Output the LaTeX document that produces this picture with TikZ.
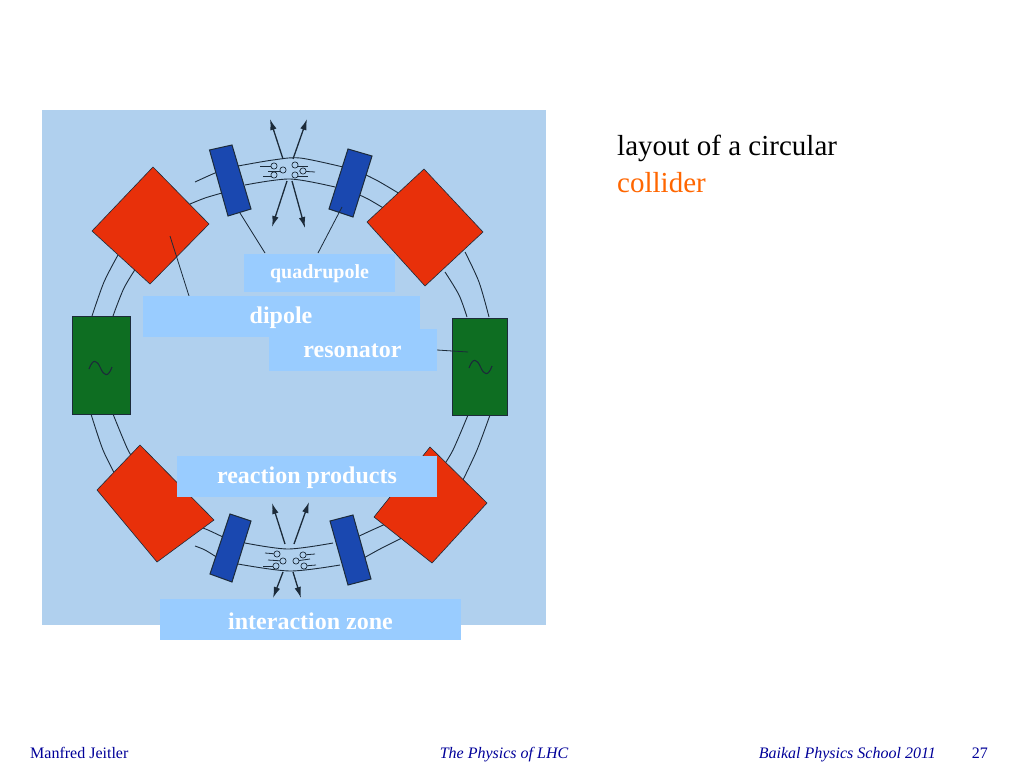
\documentclass[tikz,border=0pt]{standalone}
\usepackage{fontspec}
\setmainfont{Liberation Serif}
\definecolor{panel}{HTML}{B0D0EE}
\definecolor{lab}{HTML}{99CCFF}
\definecolor{ink}{HTML}{1C2B3A}
\definecolor{redm}{HTML}{E8300A}
\definecolor{bluem}{HTML}{1A48B0}
\definecolor{greenm}{HTML}{0E6E22}
\definecolor{foot}{HTML}{000099}
\tikzset{
  ring/.style={draw=ink,line width=0.9pt},
  lead/.style={draw=ink,line width=0.8pt},
  red magnet/.style={fill=redm,draw=ink,line width=0.6pt},
  blue magnet/.style={fill=bluem,draw=ink,line width=1pt},
  green magnet/.style={fill=greenm,draw=ink,line width=1pt},
  spray/.style={draw=ink,line width=1.3pt,-{Latex[length=11pt,width=6.5pt]}},
  stem/.style={draw=ink,line width=0.8pt},
  ball/.style={draw=ink,fill=panel,line width=0.7pt},
  labelbox/.style={fill=lab,draw=none,inner sep=0pt,text=white,font=\bfseries},
}
\usetikzlibrary{arrows.meta}
\begin{document}
\begin{tikzpicture}[x=1pt,y=-1pt]
\useasboundingbox (0,0) rectangle (1024,768);
\fill[white] (0,0) rectangle (1024,768);
\fill[panel] (42,110) rectangle (546,625);
% ring segments
\draw[ring] plot[smooth] coordinates {(238,166) (273,160) (300,158) (343,167)};
\draw[ring] plot[smooth] coordinates {(245,185) (290,179) (335,187)};
\draw[ring] plot[smooth] coordinates {(195,182) (215,173) (225,170)};
\draw[ring] plot[smooth] coordinates {(190,204) (205,198) (222,193)};
\draw[ring] plot[smooth] coordinates {(360,172) (378,181) (400,194)};
\draw[ring] plot[smooth] coordinates {(355,193) (368,199) (385,209)};
\draw[ring] plot[smooth] coordinates {(92,316) (104,282) (118,255)};
\draw[ring] plot[smooth] coordinates {(113,316) (124,288) (138,265)};
\draw[ring] plot[smooth] coordinates {(489,317) (479,282) (465,252)};
\draw[ring] plot[smooth] coordinates {(467,317) (459,295) (445,272)};
\draw[ring] plot[smooth] coordinates {(91,414) (103,450) (118,480)};
\draw[ring] plot[smooth] coordinates {(113,414) (128,450) (138,465)};
\draw[ring] plot[smooth] coordinates {(490,415) (477,450) (462,482)};
\draw[ring] plot[smooth] coordinates {(468,415) (453,450) (442,468)};
\draw[ring] plot[smooth] coordinates {(245,543) (288,549) (333,543)};
\draw[ring] plot[smooth] coordinates {(238,564) (290,571) (340,565)};
\draw[ring] plot[smooth] coordinates {(195,525) (208,530) (225,538)};
\draw[ring] plot[smooth] coordinates {(195,546) (205,550) (218,558)};
\draw[ring] plot[smooth] coordinates {(355,538) (370,531) (390,522)};
\draw[ring] plot[smooth] coordinates {(362,559) (380,549) (402,538)};
% magnets
\fill[red magnet] (153,167) -- (209,224) -- (150,284) -- (92,231) -- cycle;
\fill[red magnet] (424,169) -- (483,232) -- (425,286) -- (367,222) -- cycle;
\fill[red magnet] (140,445) -- (214,520) -- (157,562) -- (97,490) -- cycle;
\fill[red magnet] (430,447) -- (487,503) -- (432,563) -- (374,517) -- cycle;
\filldraw[green magnet] (72,316) rectangle (130,414);
\filldraw[green magnet] (452,318) rectangle (507,415);
\filldraw[blue magnet] (209.5,150) -- (232,145) -- (251,209) -- (228,216) -- cycle;
\filldraw[blue magnet] (348,149) -- (372,156) -- (353,217) -- (329,209) -- cycle;
\filldraw[blue magnet] (230,514) -- (251,521) -- (232,582) -- (210,574) -- cycle;
\filldraw[blue magnet] (330,521) -- (353,515) -- (371,579) -- (348,585) -- cycle;
% tilde signs
\draw[ink,line width=1.1pt] (89,369) .. controls (93,358) and (97,360) .. (100.5,368) .. controls (104,376) and (108,378) .. (112,367);
\draw[ink,line width=1.1pt] (469,368) .. controls (473,357) and (477,359) .. (480.5,367) .. controls (484,375) and (488,377) .. (492,366);
% reaction products, top
\coordinate (t1) at (283,159); \coordinate (t1e) at (270,119);
\coordinate (t2) at (293,159); \coordinate (t2e) at (307,119);
\coordinate (t3) at (287,181); \coordinate (t3e) at (272,227);
\coordinate (t4) at (292,181); \coordinate (t4e) at (305,228);
\draw[spray] (t1) -- (t1e);
\draw[spray] (t2) -- (t2e);
\draw[spray] (t3) -- (t3e);
\draw[spray] (t4) -- (t4e);
\coordinate (b1) at (285,544); \coordinate (b1e) at (272,503);
\coordinate (b2) at (294,544); \coordinate (b2e) at (309,502);
\coordinate (b3) at (283,572); \coordinate (b3e) at (273,598);
\coordinate (b4) at (293,572); \coordinate (b4e) at (301,598);
\draw[spray] (b1) -- (b1e);
\draw[spray] (b2) -- (b2e);
\draw[spray] (b3) -- (b3e);
\draw[spray] (b4) -- (b4e);
% bunches, top
\draw[stem] (260,166) -- (274,166);
\draw[stem] (268,171) -- (283,171);
\draw[stem] (263,176) -- (274,176);
\draw[stem] (295,166) -- (308,166);
\draw[stem] (299,171) -- (315,172);
\draw[stem] (295,176) -- (308,176);
\foreach \p in {(274,166),(274,175),(283,170),(295,165),(295,175),(303,171)}
  \filldraw[ball] \p circle (3.1);
% bunches, bottom
\draw[stem] (265,553) -- (277,554);
\draw[stem] (268,560) -- (283,561);
\draw[stem] (263,566) -- (276,566);
\draw[stem] (303,555) -- (315,554);
\draw[stem] (296,561) -- (310,559);
\draw[stem] (304,566) -- (316,565);
\foreach \p in {(277,554),(283,561),(276,566),(303,555),(296,561),(304,566)}
  \filldraw[ball] \p circle (3.1);
% leader lines
\coordinate (qa) at (240,213); \coordinate (qb) at (265,253);
\coordinate (qc) at (342,207); \coordinate (qd) at (318,253);
\coordinate (da) at (170,236); \coordinate (db) at (189,296);
\coordinate (ra) at (437,350); \coordinate (rb) at (468,352);
\draw[lead] (qa) -- (qb);
\draw[lead] (qc) -- (qd);
\draw[lead] (da) -- (db);
\draw[lead] (ra) -- (rb);
% label boxes
\node[labelbox,minimum width=151pt,minimum height=38pt,font=\bfseries\fontsize{20}{24}\selectfont] (quad) at (319.5,273) {};
\node[labelbox,minimum width=277pt,minimum height=41pt] (dip) at (281.5,316.5) {};
\node[labelbox,minimum width=168pt,minimum height=42pt] (res) at (353,350) {};
\node[labelbox,minimum width=260pt,minimum height=41pt] (reac) at (307,476.5) {};
\node[labelbox,minimum width=301pt,minimum height=41pt] (inter) at (310.5,619.5) {};
\node[text=white,font=\bfseries\fontsize{20}{24}\selectfont,inner sep=0pt] (quadt) at (319.5,274) {quadrupole};
\node[text=white,font=\bfseries\fontsize{24}{28}\selectfont,inner sep=0pt] (dipt) at (281,318) {dipole};
\node[text=white,font=\bfseries\fontsize{24}{28}\selectfont,inner sep=0pt] (rest) at (352.5,351) {resonator};
\node[text=white,font=\bfseries\fontsize{24}{28}\selectfont,inner sep=0pt] (react) at (307,478) {reaction products};
\node[text=white,font=\bfseries\fontsize{24}{28}\selectfont,inner sep=0pt] (intert) at (310.5,621) {interaction zone};
% title
\node[anchor=base west,inner sep=0pt,font=\fontsize{29}{34}\selectfont] (title1) at (617,155) {layout of a circular};
\node[anchor=base west,inner sep=0pt,text={rgb,255:red,255;green,102;blue,0},font=\fontsize{29}{34}\selectfont] (title2) at (617,192) {collider};
% footer
\node[anchor=base west,inner sep=0pt,text=foot,font=\fontsize{16}{19}\selectfont] (f1) at (30,758) {Manfred Jeitler};
\node[anchor=base,inner sep=0pt,text=foot,font=\itshape\fontsize{16}{19}\selectfont] (f2) at (504,758) {The Physics of LHC};
\node[anchor=base east,inner sep=0pt,text=foot,font=\itshape\fontsize{16}{19}\selectfont] (f3) at (936,758) {Baikal Physics School 2011};
\node[anchor=base east,inner sep=0pt,text=foot,font=\fontsize{16}{19}\selectfont] (f4) at (988,758) {27};
\end{tikzpicture}
\end{document}
